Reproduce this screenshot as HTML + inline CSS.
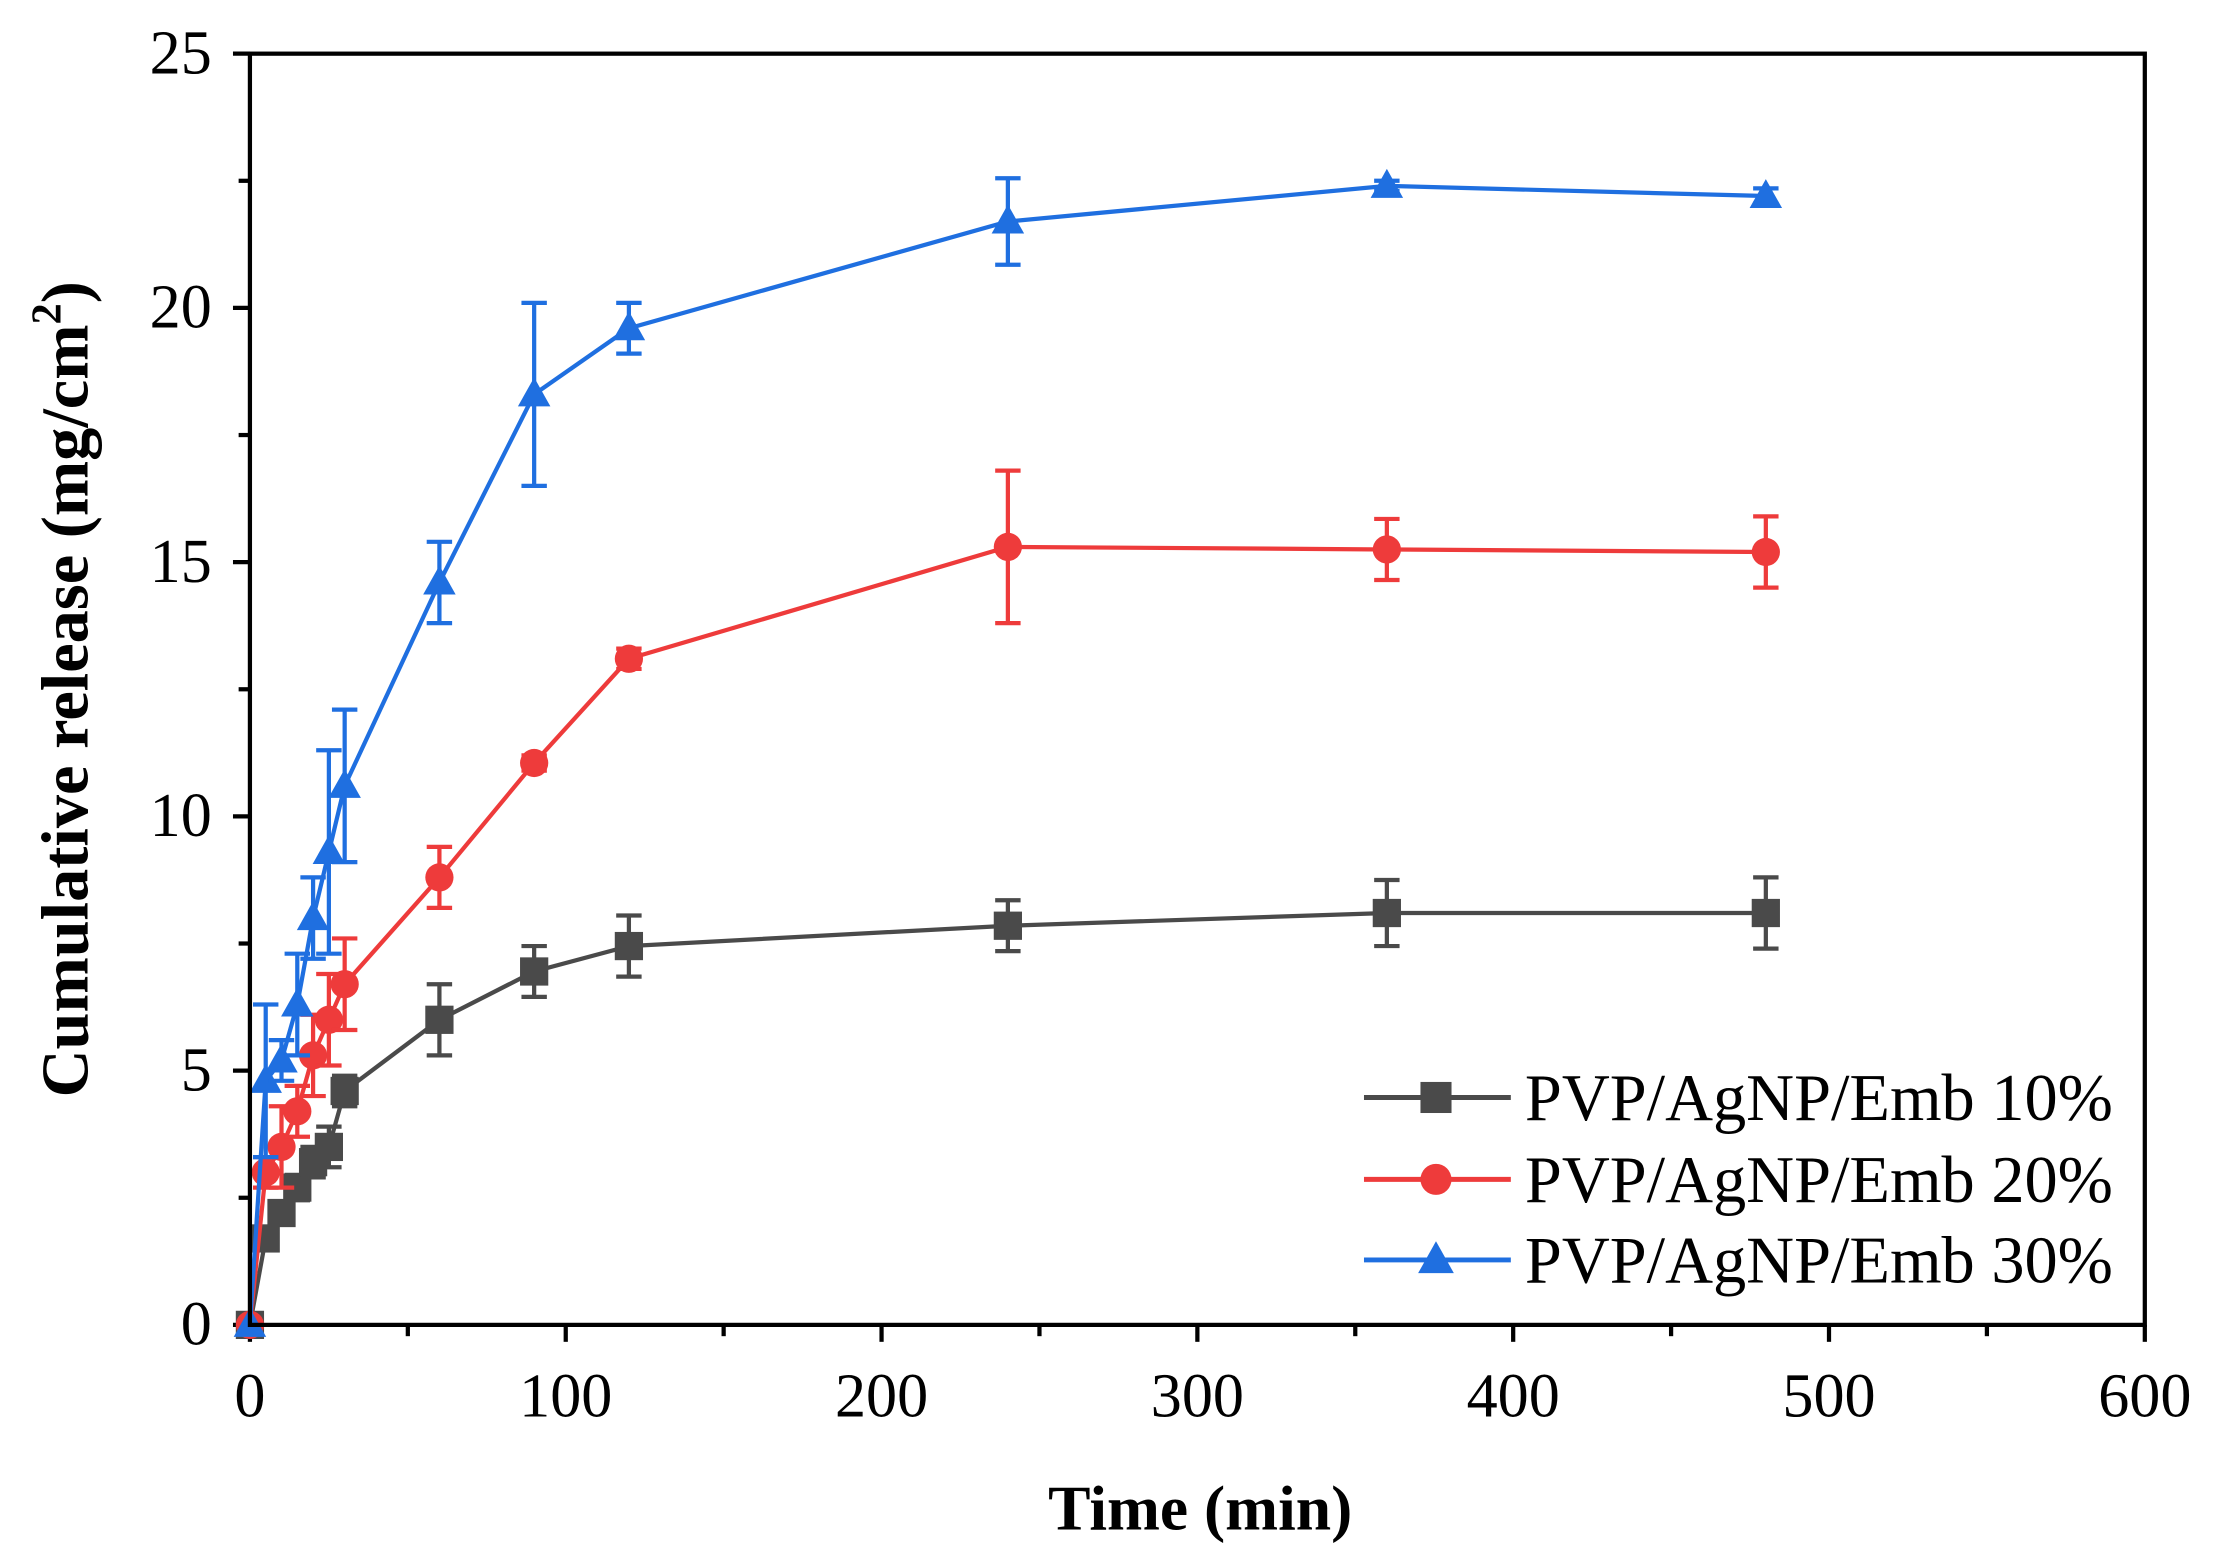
<!DOCTYPE html>
<html><head><meta charset="utf-8"><style>
html,body{margin:0;padding:0;background:#fff;}
svg{display:block;}
text{font-family:"Liberation Serif",serif;fill:#000;}
</style></head><body>
<svg id="s" width="2214" height="1565" viewBox="0 0 1568 1108" preserveAspectRatio="none" xmlns="http://www.w3.org/2000/svg">
<rect width="1568" height="1108" fill="#fff"/>
<g id="g"></g>
</svg>
<script>
const g=document.getElementById('g');
const X0=177,X1=1519,Y0=938,Y1=38;
const px=t=>X0+(X1-X0)*t/600, py=v=>Y0-(Y0-Y1)*v/25;
let h='';
function L(x1,y1,x2,y2,c,w){h+=`<line x1="${x1}" y1="${y1}" x2="${x2}" y2="${y2}" stroke="${c}" stroke-width="${w}"/>`;}
function T(x,y,s,fs,anch,extra){h+=`<text x="${x}" y="${y}" font-size="${fs}" text-anchor="${anch}" ${extra||''}>${s}</text>`;}
for(let t=0;t<=600;t+=50){const maj=t%100==0;L(px(t),Y0,px(t),Y0+(maj?12:8),'#000',3);if(maj)T(px(t),1003,t,44,'middle');}
for(let v=0;v<=25;v+=2.5){const maj=v%5==0;L(X0,py(v),X0-(maj?12:8),py(v),'#000',3);if(maj)T(150,py(v)+14,v,44,'end');}
const T_=[0,5,10,15,20,25,30,60,90,120,240,360,480];
const S=[
 {c:'#4a4a4a',m:'sq',v:[0,1.7,2.2,2.7,3.2,3.5,4.6,6.0,6.95,7.45,7.85,8.1,8.1],e:[0,.2,.2,.25,.3,.4,.3,.7,.5,.6,.5,.65,.7]},
 {c:'#ee3b3b',m:'ci',v:[0,3.0,3.5,4.2,5.3,6.0,6.7,8.8,11.05,13.1,15.3,15.25,15.2],e:[0,.3,.8,.5,.8,.9,.9,.6,.15,.2,1.5,.6,.7]},
 {c:'#1f6fe0',m:'tr',v:[0,4.8,5.2,6.3,8.0,9.3,10.6,14.6,18.3,19.6,21.7,22.4,22.2],e:[0,1.5,.4,1.0,.8,2.0,1.5,.8,1.8,.5,.85,.1,.15]}
];
function mark(m,x,y,c,s){
 if(m=='sq')h+=`<rect x="${x-s}" y="${y-s}" width="${2*s}" height="${2*s}" fill="${c}"/>`;
 else if(m=='ci')h+=`<circle cx="${x}" cy="${y}" r="${s}" fill="${c}"/>`;
 else h+=`<polygon points="${x},${y-s*1.2} ${x-s*1.15},${y+s*0.85} ${x+s*1.15},${y+s*0.85}" fill="${c}"/>`;
}
S.forEach(s=>{
 let d=T_.map((t,i)=>`${px(t)},${py(s.v[i])}`).join(' ');
 h+=`<polyline points="${d}" fill="none" stroke="${s.c}" stroke-width="3"/>`;
 T_.forEach((t,i)=>{const x=px(t);if(s.e[i]>0){const a=py(s.v[i]+s.e[i]),b=py(s.v[i]-s.e[i]);L(x,a,x,b,s.c,3);L(x-9,a,x+9,a,s.c,3);L(x-9,b,x+9,b,s.c,3);}mark(s.m,x,py(s.v[i]),s.c,10);});
});
h+=`<rect x="${X0}" y="${Y1}" width="${X1-X0}" height="${Y0-Y1}" fill="none" stroke="#000" stroke-width="3"/>`;
const ly=[777,835,892],ln=['PVP/AgNP/Emb 10%','PVP/AgNP/Emb 20%','PVP/AgNP/Emb 30%'];
S.forEach((s,i)=>{L(966,ly[i],1070,ly[i],s.c,3.5);mark(s.m,1017,ly[i],s.c,11);T(1080,ly[i]+16,ln[i],47,'start');});
T(850,1083,'Time (min)',45,'middle','font-weight="bold"');
h+=`<text transform="translate(62,488) rotate(-90)" font-size="47" font-weight="bold" text-anchor="middle">Cumulative release (mg/cm<tspan font-size="30" dy="-19">2</tspan><tspan dy="19">)</tspan></text>`;
g.innerHTML=h;
</script>
</body></html>
